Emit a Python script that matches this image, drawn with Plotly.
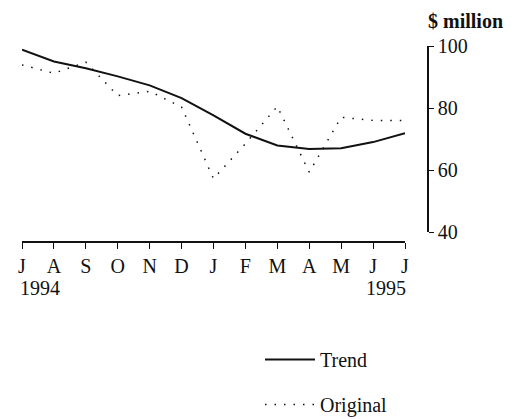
import plotly.graph_objects as go

months = ["J", "A", "S", "O", "N", "D", "J", "F", "M", "A", "M", "J", "J"]
trend = [98.8, 95.0, 92.8, 90.2, 87.3, 83.2, 77.6, 71.7, 67.9, 66.8, 67.0, 69.0, 71.9]
original = [93.9, 91.2, 94.8, 84.0, 85.4, 80.3, 57.2, 68.5, 80.5, 59.3, 77.0, 76.0, 76.0]
y_ticks = [40, 60, 80, 100]
years = ["1994", "1995"]

x = list(range(len(months)))
OFF = 8  # default body margin of the page
W, H = 520 - OFF, 419 - OFF
FONT = "Liberation Serif"
INK = "#111"


def px(sx):
    return (sx - OFF) / W


def py(sy):
    return (H - (sy - OFF)) / H


fig = go.Figure()
fig.add_trace(go.Scatter(x=x, y=trend, mode="lines", name="Trend", legendgroup="a",
                         line=dict(color=INK, width=2)))
fig.add_trace(go.Scatter(x=x, y=original, mode="lines", name="Original", legendgroup="b",
                         line=dict(color=INK, width=1.5, dash="1.5px,8px")))

fig.update_layout(
    width=W, height=H,
    margin=dict(l=0, r=0, t=0, b=0, autoexpand=False),
    paper_bgcolor="white", plot_bgcolor="white",
    font=dict(family=FONT, size=20, color=INK),
    xaxis=dict(domain=[px(22), px(405)], range=[0, 12], anchor="free",
               position=py(242), tickvals=x, ticktext=months,
               showline=True, linecolor=INK, linewidth=1.5,
               ticks="outside", ticklen=6, tickcolor=INK, tickwidth=1.2,
               ticklabelstandoff=0,
               showgrid=False, zeroline=False, automargin=False,
               tickfont=dict(family=FONT, size=20)),
    yaxis=dict(domain=[py(232), py(46)], range=[40, 100],
               anchor="free", position=px(428), side="right",
               tickvals=y_ticks, showline=True, linecolor=INK, linewidth=1.5,
               ticks="outside", ticklen=5, tickcolor=INK, tickwidth=1.2,
               showgrid=False, zeroline=False, automargin=False,
               tickfont=dict(family=FONT, size=20)),
    legend=dict(x=px(260), y=py(340), xanchor="left", yanchor="top",
                bgcolor="rgba(0,0,0,0)", tracegroupgap=16, itemwidth=50,
                traceorder="grouped",
                font=dict(family=FONT, size=20)),
    annotations=[
        dict(text="<b>$ million</b>", x=px(426), y=py(21), xref="paper", yref="paper",
             xanchor="left", yanchor="middle", showarrow=False,
             font=dict(family=FONT, size=20)),
        dict(text=years[0], x=px(18), y=py(288), xref="paper", yref="paper",
             xanchor="left", yanchor="middle", showarrow=False,
             font=dict(family=FONT, size=20)),
        dict(text=years[1], x=px(408), y=py(288), xref="paper", yref="paper",
             xanchor="right", yanchor="middle", showarrow=False,
             font=dict(family=FONT, size=20)),
    ],
)

fig.write_html("out.html")
